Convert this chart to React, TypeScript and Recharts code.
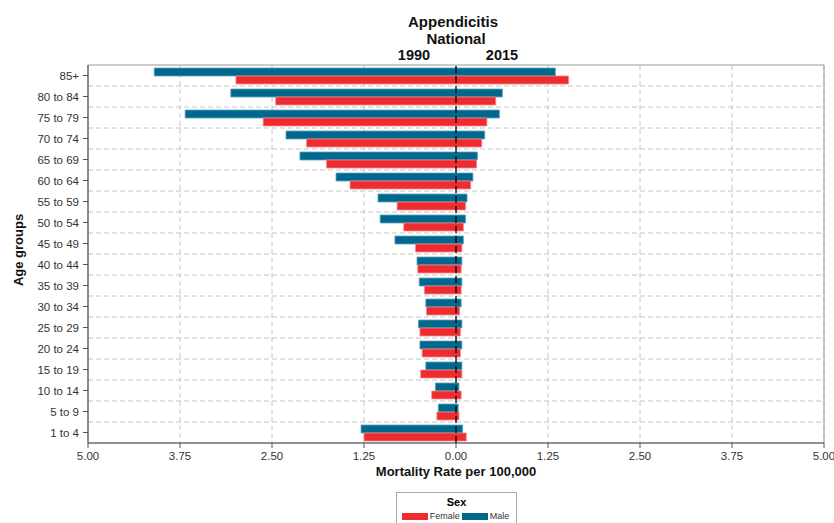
import React from "react";
import {
  BarChart,
  Bar,
  XAxis,
  YAxis,
  CartesianGrid,
  Legend,
  ReferenceLine,
  ReferenceArea,
} from "recharts";

const ages = [
  "85+",
  "80 to 84",
  "75 to 79",
  "70 to 74",
  "65 to 69",
  "60 to 64",
  "55 to 59",
  "50 to 54",
  "45 to 49",
  "40 to 44",
  "35 to 39",
  "30 to 34",
  "25 to 29",
  "20 to 24",
  "15 to 19",
  "10 to 14",
  "5 to 9",
  "1 to 4",
];

// 1990 values drawn to the left of zero, 2015 to the right
const male1990 = [4.1, 3.06, 3.68, 2.31, 2.12, 1.63, 1.06, 1.03, 0.83, 0.53, 0.5, 0.41, 0.51, 0.49, 0.41, 0.28, 0.24, 1.29];
const male2015 = [1.35, 0.63, 0.59, 0.39, 0.29, 0.23, 0.15, 0.13, 0.1, 0.08, 0.08, 0.07, 0.08, 0.08, 0.08, 0.04, 0.03, 0.09];
const female1990 = [2.99, 2.45, 2.62, 2.03, 1.76, 1.44, 0.8, 0.71, 0.55, 0.52, 0.43, 0.4, 0.49, 0.46, 0.48, 0.33, 0.26, 1.25];
const female2015 = [1.53, 0.54, 0.42, 0.35, 0.28, 0.2, 0.13, 0.1, 0.08, 0.07, 0.07, 0.05, 0.06, 0.06, 0.08, 0.07, 0.04, 0.14];

const xTicks = [-5, -3.75, -2.5, -1.25, 0, 1.25, 2.5, 3.75, 5];

const MALE = "#00688c";
const FEMALE = "#ee2b2e";

const data = ages.map((age, i) => ({
  age,
  male: [-male1990[i], male2015[i]],
  female: [-female1990[i], female2015[i]],
}));

// dashed lines sit between the age groups, not through them
const gridRows = ({ offset }: any) => {
  const step = offset.height / ages.length;
  return ages.slice(1).map((_, i) => offset.top + step * (i + 1));
};

const SexLegend = (props: any) => {
  const items = [...(props.payload || [])].sort((a: any, b: any) =>
    a.value === "Female" ? -1 : b.value === "Female" ? 1 : 0
  );
  return (
    <div
      style={{
        border: "1px solid #aaa",
        boxSizing: "border-box",
        width: 121,
        height: 34,
        textAlign: "center",
        background: "#fff",
      }}
    >
      <div style={{ fontWeight: "bold", fontSize: 11, lineHeight: "13px", marginTop: 3 }}>Sex</div>
      <div style={{ display: "flex", justifyContent: "center", alignItems: "center", marginTop: 2 }}>
        {items.map((it: any) => (
          <span key={it.value} style={{ display: "flex", alignItems: "center", marginRight: 2 }}>
            <span style={{ width: 26, height: 7, background: it.color, display: "inline-block", marginRight: 2 }} />
            <span style={{ fontSize: 9, color: "#333" }}>{it.value}</span>
          </span>
        ))}
      </div>
    </div>
  );
};

const titleStyle: React.CSSProperties = {
  position: "absolute",
  fontWeight: "bold",
  fontSize: 15,
  color: "#111",
  transform: "translate(-50%, -50%)",
  whiteSpace: "nowrap",
};

export default function App() {
  return (
    <div
      style={{
        position: "absolute",
        left: 0,
        top: 0,
        width: 834,
        height: 523,
        background: "#fff",
        fontFamily: "'Liberation Sans', Arial, sans-serif",
        overflow: "hidden",
      }}
    >
      <BarChart
        width={834}
        height={523}
        data={data}
        layout="vertical"
        margin={{ top: 65, right: 10, bottom: 0, left: 0 }}
        barGap={0}
      >
        <CartesianGrid
          stroke="#c4c4c4"
          strokeDasharray="5 3"
          horizontalCoordinatesGenerator={gridRows}
        />
        <XAxis
          type="number"
          domain={[-5, 5]}
          ticks={xTicks}
          tickFormatter={(v: number) => Math.abs(v).toFixed(2)}
          height={80}
          tickSize={5}
          tickMargin={4}
          tick={{ fontSize: 11.5, fill: "#333" }}
          axisLine={{ stroke: "#555" }}
          tickLine={{ stroke: "#555" }}
          allowDataOverflow
        />
        <YAxis
          type="category"
          dataKey="age"
          width={88}
          interval={0}
          tickSize={5}
          tickMargin={4}
          tick={{ fontSize: 11.5, fill: "#333" }}
          axisLine={{ stroke: "#555" }}
          tickLine={{ stroke: "#555" }}
        />
        <ReferenceArea x1={-5} x2={5} fill="none" stroke="#9a9a9a" />
        <Bar
          dataKey="male"
          name="Male"
          fill={MALE}
          stroke="#5aa3c0"
          strokeWidth={0.8}
          barSize={8}
          isAnimationActive={false}
        />
        <Bar
          dataKey="female"
          name="Female"
          fill={FEMALE}
          stroke="#f58a8a"
          strokeWidth={0.8}
          barSize={8}
          isAnimationActive={false}
        />
        <ReferenceLine x={0} stroke="#000" strokeWidth={1.3} strokeDasharray="7 3" />
        <Legend
          layout="horizontal"
          verticalAlign="middle"
          align="center"
          content={<SexLegend />}
          wrapperStyle={{ left: 396, top: 492, width: 121 }}
        />
      </BarChart>

      <div style={{ ...titleStyle, left: 453, top: 21 }}>Appendicitis</div>
      <div style={{ ...titleStyle, left: 456, top: 38 }}>National</div>
      <div style={{ ...titleStyle, left: 414, top: 55, fontSize: 14.5 }}>1990</div>
      <div style={{ ...titleStyle, left: 502, top: 55, fontSize: 14.5 }}>2015</div>
      <div style={{ ...titleStyle, left: 456, top: 471, fontSize: 13 }}>
        Mortality Rate per 100,000
      </div>
      <div
        style={{
          ...titleStyle,
          left: 18,
          top: 250,
          fontSize: 13,
          transform: "translate(-50%, -50%) rotate(-90deg)",
        }}
      >
        Age groups
      </div>
    </div>
  );
}
